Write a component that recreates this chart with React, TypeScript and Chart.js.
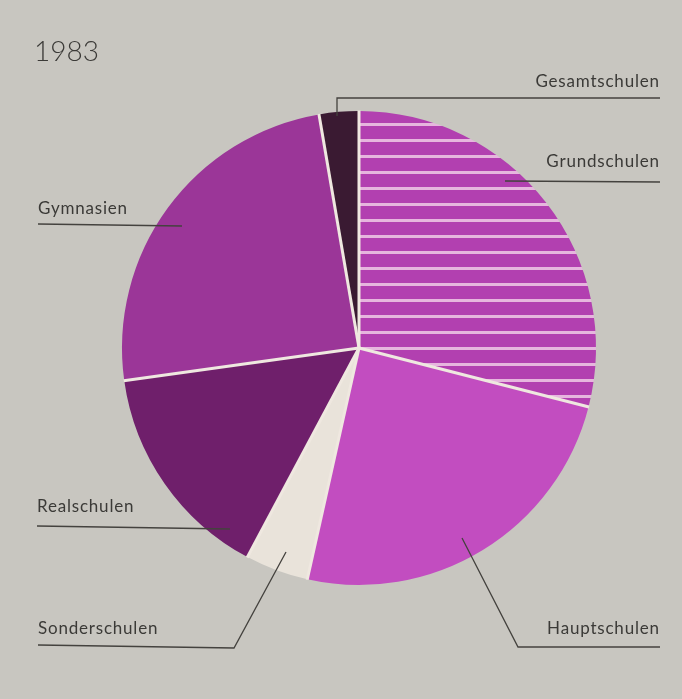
import React, { useEffect, useRef } from "react";
import { Chart, registerables } from "chart.js";

Chart.register(...registerables);

const categories = ["Grundschulen", "Hauptschulen", "Sonderschulen", "Realschulen", "Gymnasien", "Gesamtschulen"];
const shares = [29.0, 24.5, 4.3, 15.0, 24.5, 2.7];
const title = "1983";

const BG = "#c8c6c0";
const INK = "#3b3a37";
const SEP = "#efe8e0";

function stripePattern(): CanvasPattern | string {
  const c = document.createElement("canvas");
  c.width = 8;
  c.height = 16;
  const g = c.getContext("2d")!;
  g.fillStyle = "#b240b0";
  g.fillRect(0, 0, 8, 16);
  g.fillStyle = "#e6b6de";
  g.fillRect(0, 11, 8, 3);
  const p = g.createPattern(c, "repeat");
  return p || "#b240b0";
}

type Callout = {
  text: string;
  align: "left" | "right";
  tx: number;
  ty: number;
  pts: [number, number][];
};

const callouts: Callout[] = [
  { text: "Gesamtschulen", align: "right", tx: 659, ty: 87, pts: [[337, 116], [337, 98], [660, 98]] },
  { text: "Grundschulen", align: "right", tx: 659, ty: 167, pts: [[505, 181], [660, 182]] },
  { text: "Gymnasien", align: "left", tx: 38, ty: 214, pts: [[38, 224], [182, 226]] },
  { text: "Realschulen", align: "left", tx: 37, ty: 512, pts: [[37, 526], [230, 529]] },
  { text: "Sonderschulen", align: "left", tx: 38, ty: 634, pts: [[38, 645], [234, 648], [286, 552]] },
  { text: "Hauptschulen", align: "right", tx: 659, ty: 634, pts: [[462, 538], [518, 647], [660, 647]] },
];

const decorPlugin = {
  id: "decor",
  beforeDraw(chart: any) {
    const ctx = chart.ctx;
    ctx.save();
    ctx.fillStyle = BG;
    ctx.fillRect(0, 0, chart.width, chart.height);
    ctx.restore();
  },
  afterDatasetsDraw(chart: any) {
    const ctx = chart.ctx;
    const meta = chart.getDatasetMeta(0);
    ctx.save();
    ctx.strokeStyle = SEP;
    ctx.lineWidth = 3;
    ctx.lineCap = "butt";
    meta.data.forEach((arc: any) => {
      const { x, y, startAngle, outerRadius } = arc.getProps(["x", "y", "startAngle", "outerRadius"], true);
      ctx.beginPath();
      ctx.moveTo(x, y);
      ctx.lineTo(x + Math.cos(startAngle) * (outerRadius + 0.5), y + Math.sin(startAngle) * (outerRadius + 0.5));
      ctx.stroke();
    });
    ctx.restore();

    ctx.save();
    ctx.fillStyle = INK;
    ctx.font = "300 28px Lato, 'Open Sans', sans-serif";
    ctx.textAlign = "left";
    ctx.textBaseline = "alphabetic";
    ctx.fillText(title, 34, 61);

    ctx.font = "17px Lato, 'Open Sans', sans-serif";
    try { (ctx as any).letterSpacing = "0.8px"; } catch (e) {}
    ctx.strokeStyle = "#44423e";
    ctx.lineWidth = 1.3;
    callouts.forEach((c) => {
      ctx.textAlign = c.align;
      ctx.fillText(c.text, c.align === "right" ? c.tx + 0.8 : c.tx, c.ty);
      ctx.beginPath();
      c.pts.forEach(([px, py], i) => (i === 0 ? ctx.moveTo(px, py) : ctx.lineTo(px, py)));
      ctx.stroke();
    });
    ctx.restore();
  },
};

export default function App() {
  const ref = useRef<HTMLCanvasElement>(null);
  useEffect(() => {
    document.body.style.margin = "0";
    const canvas = ref.current!;
    const chart = new Chart(canvas, {
      type: "pie",
      data: {
        labels: categories,
        datasets: [
          {
            data: shares,
            backgroundColor: [stripePattern(), "#c24dc0", "#e9e3da", "#6f1f6b", "#9b3698", "#3a1a32"],
            borderWidth: 0,
          },
        ],
      },
      options: {
        animation: false,
        responsive: false,
        maintainAspectRatio: false,
        layout: { padding: { left: 122, right: 86, top: 111, bottom: 114 } },
        plugins: { legend: { display: false }, tooltip: { enabled: false }, title: { display: false } },
      },
      plugins: [decorPlugin],
    });
    return () => chart.destroy();
  }, []);
  return (
    <div style={{ position: "fixed", left: 0, top: 0, width: 682, height: 699, background: BG }}>
      <canvas ref={ref} width={682} height={699} style={{ display: "block", width: 682, height: 699 }} />
    </div>
  );
}
